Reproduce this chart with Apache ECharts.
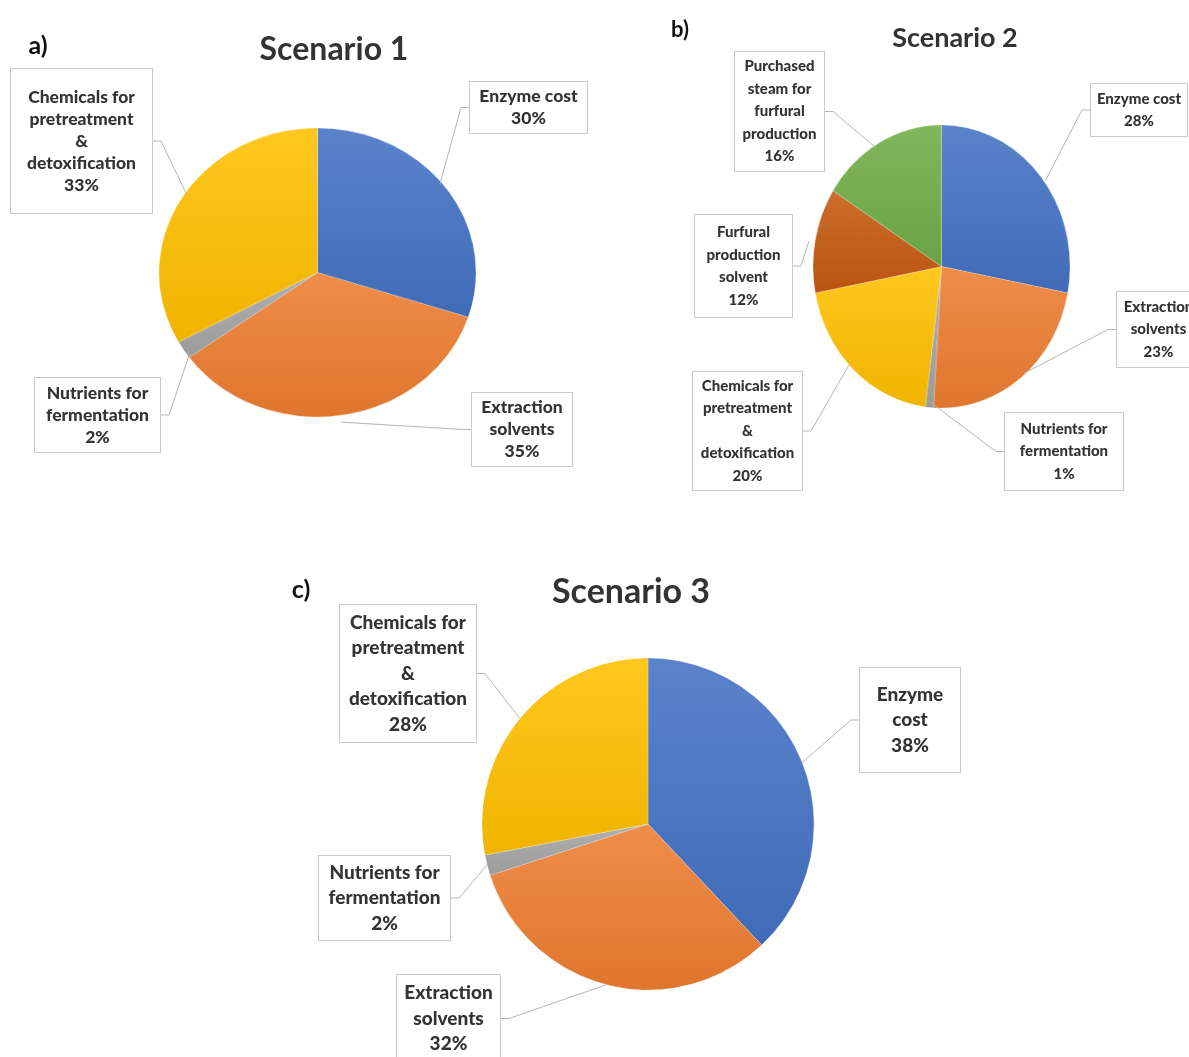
<!DOCTYPE html>
<html>
<head>
<meta charset="utf-8">
<script src="https://cdn.jsdelivr.net/npm/echarts@6/dist/echarts.min.js"></script>
<style>
  html, body { margin: 0; padding: 0; background: #fff; }
  #page { position: relative; width: 1189px; height: 1057px; overflow: hidden; background: #fff; }
  .pie { position: absolute; }
  #overlay { position: absolute; left: 0; top: 0; width: 1189px; height: 1057px; }
</style>
</head>
<body>
<div id="page">
  <div id="pie1" class="pie"></div>
  <div id="pie2" class="pie"></div>
  <div id="pie3" class="pie"></div>
  <div id="overlay"></div>
</div>
<script>
// ---- Cost shares (%) for each scenario ----
const s1Names = ['Enzyme cost', 'Extraction\nsolvents', 'Nutrients for\nfermentation', 'Chemicals for\npretreatment\n&\ndetoxification'];
const s1Values = [30, 35, 2, 33];

const s2Names = ['Enzyme cost', 'Extraction\nsolvents', 'Nutrients for\nfermentation', 'Chemicals for\npretreatment\n&\ndetoxification', 'Furfural\nproduction\nsolvent', 'Purchased\nsteam for\nfurfural\nproduction'];
const s2Values = [28, 23, 1, 20, 12, 16];

const s3Names = ['Enzyme\ncost', 'Extraction\nsolvents', 'Nutrients for\nfermentation', 'Chemicals for\npretreatment\n&\ndetoxification'];
const s3Values = [38, 32, 2, 28];

const titles = ['Scenario 1', 'Scenario 2', 'Scenario 3'];
const panelTags = ['a)', 'b)', 'c)'];

// ---- Styling ----
const s1Colors = ['#4472C4', '#ED7D31', '#A5A5A5', '#FFC000'];
const s2Colors = ['#4472C4', '#ED7D31', '#A5A5A5', '#FFC000', '#C55A11', '#70AD47'];
const s3Colors = ['#4472C4', '#ED7D31', '#A5A5A5', '#FFC000'];

// pie geometry: centre and horizontal / vertical radii
const pieGeom = [
  { id: 'pie1', cx: 317.5, cy: 272.5, rx: 158.5, ry: 144.5 },
  { id: 'pie2', cx: 941.5, cy: 266.5, rx: 128.5, ry: 141.5 },
  { id: 'pie3', cx: 647.5, cy: 824,   rx: 166,   ry: 166 }
];

// label boxes [left, top, right, bottom]
const s1Boxes = [[470, 82, 587, 133], [472, 393, 572, 466], [35, 378, 160, 452], [11, 69, 152, 213]];
const s2Boxes = [[1091, 84, 1187, 136], [1117, 292, 1200, 367], [1005, 413, 1123, 490], [693, 372, 802, 490], [695, 215, 792, 317], [735, 52, 824, 171]];
const s3Boxes = [[860, 668, 960, 772], [397, 975, 500, 1062], [319, 856, 450, 940], [340, 605, 476, 742]];

const labelFonts = [
  { size: 17.5, lh: 22 },
  { size: 15, lh: 22.5 },
  { size: 19, lh: 25.5 }
];

function mix(hex, target, t) {
  const a = parseInt(hex.slice(1), 16);
  const r = (a >> 16) & 255, g = (a >> 8) & 255, b = a & 255;
  const m = c => Math.round(c + (target - c) * t);
  return 'rgb(' + m(r) + ',' + m(g) + ',' + m(b) + ')';
}
function shaded(hex) {
  return new echarts.graphic.LinearGradient(0, 0, 0, 1, [
    { offset: 0, color: mix(hex, 255, 0.12) },
    { offset: 1, color: mix(hex, 0, 0.06) }
  ]);
}

const scenarios = [
  { names: s1Names, values: s1Values, colors: s1Colors, boxes: s1Boxes },
  { names: s2Names, values: s2Values, colors: s2Colors, boxes: s2Boxes },
  { names: s3Names, values: s3Values, colors: s3Colors, boxes: s3Boxes }
];

// ---- Filled pies (each in its own container, stretched to an ellipse) ----
scenarios.forEach((sc, k) => {
  const g = pieGeom[k];
  const R = Math.max(g.rx, g.ry);
  const size = 2 * R + 8;
  const el = document.getElementById(g.id);
  el.style.left = (g.cx - size / 2) + 'px';
  el.style.top = (g.cy - size / 2) + 'px';
  el.style.width = size + 'px';
  el.style.height = size + 'px';
  el.style.transformOrigin = '50% 50%';
  el.style.transform = 'scale(' + (g.rx / R) + ',' + (g.ry / R) + ')';
  const chart = echarts.init(el, null, { renderer: 'canvas' });
  chart.setOption({
    animation: false,
    series: [{
      type: 'pie',
      silent: true,
      center: ['50%', '50%'],
      radius: R,
      startAngle: 90,
      clockwise: true,
      label: { show: false },
      labelLine: { show: false },
      itemStyle: { borderColor: 'rgba(255,255,255,0.35)', borderWidth: 0.6 },
      data: sc.names.map((n, i) => ({
        name: n, value: sc.values[i],
        itemStyle: { color: shaded(sc.colors[i]) }
      }))
    }]
  });
});

// ---- Titles, label boxes and leader lines ----
const overlay = echarts.init(document.getElementById('overlay'), null, { renderer: 'canvas' });

const overlaySeries = scenarios.map((sc, k) => {
  const g = pieGeom[k];
  const f = labelFonts[k];
  return {
    type: 'pie',
    silent: true,
    center: [g.cx, g.cy],
    radius: (g.rx + g.ry) / 2,
    startAngle: 90,
    clockwise: true,
    avoidLabelOverlap: false,
    itemStyle: { color: 'rgba(0,0,0,0)', borderWidth: 0 },
    emphasis: { disabled: true },
    labelLine: {
      show: true, length: 8, length2: 8, smooth: false,
      lineStyle: { color: '#b5b5b5', width: 1 }
    },
    labelLayout: function (p) {
      const b = sc.boxes[p.dataIndex];
      return { x: (b[0] + b[2]) / 2, y: (b[1] + b[3]) / 2, align: 'center', verticalAlign: 'middle' };
    },
    data: sc.names.map((n, i) => {
      const b = sc.boxes[i];
      const lines = n.split('\n').length + 1;
      const padX = 4;
      const padY = Math.max(0, ((b[3] - b[1]) - lines * f.lh) / 2);
      return {
        name: n,
        value: sc.values[i],
        label: {
          width: (b[2] - b[0]) - 2 * padX,
          padding: [padY, padX, padY, padX]
        }
      };
    }),
    label: {
      show: true,
      position: 'outside',
      formatter: '{b}\n{c}%',
      fontFamily: 'Lato',
      fontWeight: 900,
      fontSize: f.size,
      lineHeight: f.lh,
      color: '#333333',
      align: 'center',
      backgroundColor: '#ffffff',
      borderColor: '#c9c9c9',
      borderWidth: 1
    }
  };
});

const titlePos = [
  { x: 334, y: 50, size: 32, tx: 38, ty: 46, tsize: 25 },
  { x: 955, y: 38, size: 27, tx: 680, ty: 30, tsize: 22 },
  { x: 631, y: 592, size: 34, tx: 301, ty: 590, tsize: 25 }
];

const graphics = [];
titlePos.forEach((t, k) => {
  graphics.push({
    type: 'text', x: t.x, y: t.y, silent: true,
    style: { text: titles[k], font: 'bold ' + t.size + 'px Lato', fill: '#333333',
             align: 'center', verticalAlign: 'middle', textAlign: 'center', textVerticalAlign: 'middle' }
  });
  graphics.push({
    type: 'text', x: t.tx, y: t.ty, silent: true,
    style: { text: panelTags[k], font: 'bold ' + t.tsize + 'px Lato', fill: '#111111',
             align: 'center', verticalAlign: 'middle', textAlign: 'center', textVerticalAlign: 'middle' }
  });
});

overlay.setOption({
  animation: false,
  graphic: graphics,
  series: overlaySeries
});
</script>
</body>
</html>
